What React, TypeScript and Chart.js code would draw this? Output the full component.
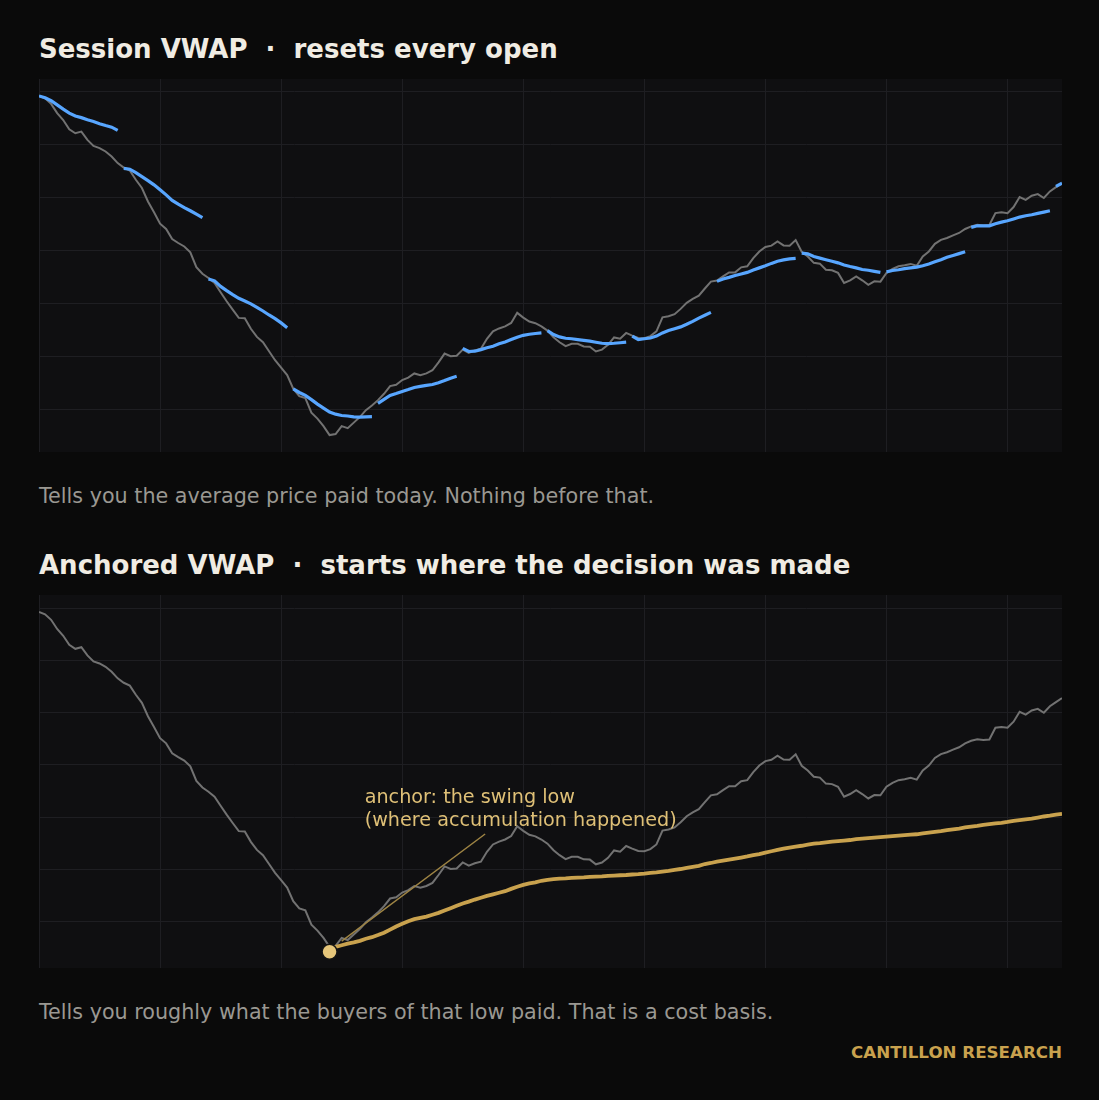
import { useEffect, useRef } from "react"
import { Chart, registerables } from "chart.js"

Chart.register(...registerables)

// bars on the x axis, 14 bars per session
const BAR_COUNT = 170
const SESSION_BARS = 14
const ANCHOR_BAR = 48
const ANCHOR_LOW = 92.84

const xGridTicks = [0, 20, 40, 60, 80, 100, 120, 140, 160]
const yGridTicks = [94, 96, 98, 100, 102, 104, 106]

// close price per bar
const price = [
  105.85, 105.76, 105.55, 105.2, 104.94, 104.59, 104.44, 104.5, 104.19, 103.96,
  103.88, 103.75, 103.56, 103.31, 103.14, 103.03, 102.68, 102.37, 101.86, 101.45,
  101.02, 100.82, 100.44, 100.29, 100.16, 99.94, 99.38, 99.13, 98.97, 98.78,
  98.43, 98.09, 97.77, 97.46, 97.45, 97.05, 96.74, 96.54, 96.2, 95.86,
  95.58, 95.3, 94.78, 94.5, 94.43, 93.88, 93.65, 93.37, 93.03, 93.07,
  93.37, 93.29, 93.5, 93.71, 93.97, 94.15, 94.35, 94.59, 94.88, 94.93,
  95.11, 95.2, 95.36, 95.29, 95.36, 95.48, 95.78, 96.11, 96.01, 96.03,
  96.26, 96.14, 96.23, 96.29, 96.67, 96.95, 97.06, 97.14, 97.27, 97.65,
  97.47, 97.32, 97.26, 97.14, 96.98, 96.73, 96.54, 96.39, 96.48, 96.48,
  96.38, 96.37, 96.19, 96.26, 96.44, 96.72, 96.67, 96.89, 96.79, 96.7,
  96.69, 96.77, 96.95, 97.48, 97.52, 97.6, 97.8, 98.03, 98.18, 98.3,
  98.57, 98.83, 98.87, 99.03, 99.18, 99.18, 99.37, 99.41, 99.72, 99.97,
  100.14, 100.19, 100.35, 100.2, 100.19, 100.4, 99.96, 99.78, 99.54, 99.51,
  99.28, 99.26, 99.16, 98.78, 98.88, 99.03, 98.88, 98.71, 98.84, 98.83,
  99.16, 99.31, 99.41, 99.45, 99.5, 99.43, 99.78, 99.97, 100.26, 100.41,
  100.48, 100.58, 100.67, 100.82, 100.92, 100.98, 100.95, 100.97, 101.42, 101.45,
  101.42, 101.65, 102.03, 101.92, 102.08, 102.14, 101.99, 102.24, 102.4, 102.55,
]

// session VWAP, one list per session
const sessionVwap = [
  [105.85, 105.78, 105.67, 105.51, 105.35, 105.2, 105.09, 105.03, 104.95, 104.88, 104.8, 104.73, 104.67, 104.55],
  [103.11, 103.08, 102.95, 102.8, 102.65, 102.49, 102.3, 102.11, 101.9, 101.76, 101.63, 101.51, 101.38, 101.25],
  [98.93, 98.86, 98.65, 98.49, 98.34, 98.2, 98.1, 97.99, 97.86, 97.72, 97.57, 97.43, 97.27, 97.09],
  [94.78, 94.64, 94.53, 94.37, 94.2, 94.05, 93.9, 93.82, 93.77, 93.75, 93.72, 93.71, 93.72, 93.73],
  [94.23, 94.38, 94.53, 94.6, 94.68, 94.75, 94.83, 94.87, 94.91, 94.94, 95.01, 95.09, 95.18, 95.25],
  [96.31, 96.19, 96.2, 96.26, 96.33, 96.39, 96.48, 96.55, 96.64, 96.73, 96.8, 96.84, 96.87, 96.89],
  [96.98, 96.83, 96.74, 96.69, 96.67, 96.64, 96.61, 96.58, 96.54, 96.5, 96.49, 96.5, 96.52, 96.54],
  [96.77, 96.64, 96.67, 96.7, 96.77, 96.89, 96.98, 97.05, 97.12, 97.22, 97.33, 97.45, 97.56, 97.67],
  [98.84, 98.93, 98.99, 99.06, 99.12, 99.18, 99.27, 99.35, 99.43, 99.52, 99.6, 99.65, 99.69, 99.71],
  [99.91, 99.88, 99.78, 99.72, 99.66, 99.6, 99.54, 99.46, 99.4, 99.35, 99.29, 99.26, 99.22, 99.18],
  [99.2, 99.25, 99.28, 99.32, 99.35, 99.38, 99.43, 99.5, 99.58, 99.66, 99.75, 99.82, 99.89, 99.96],
  [100.88, 100.94, 100.94, 100.94, 101.02, 101.08, 101.13, 101.2, 101.27, 101.32, 101.36, 101.41, 101.46, 101.51],
  [102.43, 102.55],
]

// anchored VWAP, starting at ANCHOR_BAR
const anchoredVwap = [
  92.98, 93.03, 93.09, 93.15, 93.2, 93.26, 93.34, 93.4, 93.48, 93.57,
  93.69, 93.81, 93.91, 94.01, 94.09, 94.14, 94.19, 94.26, 94.33, 94.42,
  94.51, 94.6, 94.69, 94.76, 94.84, 94.91, 94.98, 95.04, 95.1, 95.16,
  95.25, 95.33, 95.4, 95.46, 95.5, 95.56, 95.59, 95.62, 95.64, 95.65,
  95.67, 95.68, 95.69, 95.71, 95.72, 95.73, 95.75, 95.76, 95.77, 95.78,
  95.8, 95.81, 95.83, 95.86, 95.88, 95.91, 95.94, 95.98, 96.01, 96.05,
  96.09, 96.13, 96.2, 96.24, 96.29, 96.33, 96.37, 96.41, 96.45, 96.49,
  96.54, 96.58, 96.64, 96.69, 96.74, 96.79, 96.83, 96.87, 96.9, 96.94,
  96.98, 97.0, 97.03, 97.06, 97.08, 97.1, 97.12, 97.15, 97.17, 97.19,
  97.21, 97.23, 97.25, 97.27, 97.29, 97.31, 97.33, 97.34, 97.37, 97.4,
  97.43, 97.46, 97.5, 97.53, 97.56, 97.6, 97.63, 97.66, 97.7, 97.73,
  97.76, 97.78, 97.81, 97.85, 97.88, 97.91, 97.94, 97.98, 98.02, 98.05,
  98.09, 98.12,
]

const noteLines = ["anchor: the swing low", "(where accumulation happened)"]
const noteAt = { x: 53.8, y: 97.65 } // baseline of the last line
const leaderFrom = { x: 73.7, y: 97.35 }
const leaderTo = { x: 50.0, y: 93.25 }

const BG = "#0a0a0a"
const PLOT_BG = "#0f0f11"
const GRID = "#1e1e22"
const PRICE = "#727272"
const BLUE = "#58a6ff"
const GOLD = "#c9a24e"
const DOT = "#e6c67a"
const NOTE = "#dfc077"
const LEADER = "#9e8444"
const TITLE = "#f0ece3"
const CAPTION = "#9a9892"
const FONT = "'DejaVu Sans', sans-serif"

const priceData = price.map((y, i) => ({ x: i, y }))

function makeOptions(yMin: number, yMax: number): any {
  const axis = (min: number, max: number, ticks: number[]) => ({
    type: "linear",
    min,
    max,
    grid: { color: GRID, lineWidth: 1, drawTicks: false },
    border: { display: false },
    ticks: { display: false },
    afterBuildTicks: (scale: any) => {
      scale.ticks = ticks.map((value) => ({ value }))
    },
  })
  return {
    animation: false,
    responsive: true,
    maintainAspectRatio: false,
    events: [],
    layout: { padding: 0, autoPadding: false },
    plugins: { legend: { display: false }, tooltip: { enabled: false } },
    elements: { point: { radius: 0, hoverRadius: 0 }, line: { tension: 0 } },
    scales: {
      x: axis(0, BAR_COUNT - 1, xGridTicks),
      y: axis(yMin, yMax, yGridTicks),
    },
  }
}

// leader line and note text for the anchored panel
const anchorNote = {
  id: "anchorNote",
  afterDatasetsDraw(chart: any) {
    const { ctx, scales } = chart
    const x = scales.x
    const y = scales.y
    ctx.save()
    ctx.strokeStyle = LEADER
    ctx.lineWidth = 1.5
    ctx.beginPath()
    ctx.moveTo(x.getPixelForValue(leaderFrom.x), y.getPixelForValue(leaderFrom.y))
    ctx.lineTo(x.getPixelForValue(leaderTo.x), y.getPixelForValue(leaderTo.y))
    ctx.stroke()

    ctx.font = `19.2px ${FONT}`
    ctx.fillStyle = NOTE
    ctx.textBaseline = "alphabetic"
    const tx = x.getPixelForValue(noteAt.x)
    const ty = y.getPixelForValue(noteAt.y)
    noteLines.forEach((line, i) => {
      ctx.fillText(line, tx, ty - (noteLines.length - 1 - i) * 23.3)
    })
    ctx.restore()
  },
}

function SessionChart() {
  const chartRef = useRef<HTMLCanvasElement>(null)
  const chartInstance = useRef<Chart | null>(null)

  useEffect(() => {
    if (!chartRef.current) return
    if (chartInstance.current) chartInstance.current.destroy()

    const sessions = sessionVwap.map((vals, s) => ({
      data: vals.map((y, j) => ({ x: s * SESSION_BARS + j, y })),
      borderColor: BLUE,
      borderWidth: 3.2,
      order: 0,
    }))

    chartInstance.current = new Chart(chartRef.current, {
      type: "line",
      data: {
        datasets: [
          ...sessions,
          { data: priceData, borderColor: PRICE, borderWidth: 2, order: 1 },
        ],
      },
      options: makeOptions(92.39, 106.49),
    })

    return () => {
      if (chartInstance.current) {
        chartInstance.current.destroy()
        chartInstance.current = null
      }
    }
  }, [])

  return <canvas ref={chartRef}></canvas>
}

function AnchoredChart() {
  const chartRef = useRef<HTMLCanvasElement>(null)
  const chartInstance = useRef<Chart | null>(null)

  useEffect(() => {
    if (!chartRef.current) return
    if (chartInstance.current) chartInstance.current.destroy()

    chartInstance.current = new Chart(chartRef.current, {
      type: "line",
      data: {
        datasets: [
          {
            data: [{ x: ANCHOR_BAR, y: ANCHOR_LOW }],
            showLine: false,
            pointRadius: 7.5,
            pointBackgroundColor: DOT,
            pointBorderColor: "#141414",
            pointBorderWidth: 1.5,
            order: 0,
          },
          {
            data: anchoredVwap.map((y, j) => ({ x: ANCHOR_BAR + j, y })),
            borderColor: GOLD,
            borderWidth: 3.8,
            order: 1,
          },
          { data: priceData, borderColor: PRICE, borderWidth: 2, order: 2 },
        ] as any,
      },
      options: makeOptions(92.22, 106.5),
      plugins: [anchorNote],
    })

    return () => {
      if (chartInstance.current) {
        chartInstance.current.destroy()
        chartInstance.current = null
      }
    }
  }, [])

  return <canvas ref={chartRef}></canvas>
}

function Text({ top, size, color, bold, children, right }: any) {
  return (
    <div
      style={{
        position: "absolute",
        top,
        left: right === undefined ? 39 : undefined,
        right,
        fontSize: size,
        lineHeight: `${size}px`,
        fontWeight: bold ? 700 : 400,
        color,
        whiteSpace: "pre",
      }}
    >
      {children}
    </div>
  )
}

const plotBox = (top: number): any => ({
  position: "absolute",
  left: 39,
  top,
  width: 1023,
  height: 373,
  background: PLOT_BG,
})

export default function App() {
  useEffect(() => {
    document.body.style.margin = "0"
    document.body.style.background = BG
  }, [])

  return (
    <div
      style={{
        position: "absolute",
        top: 0,
        left: 0,
        width: 1099,
        height: 1100,
        background: BG,
        fontFamily: FONT,
        overflow: "hidden",
      }}
    >
      <Text top={36} size={26} color={TITLE} bold>
        {"Session VWAP  \u00b7  resets every open"}
      </Text>
      <div style={plotBox(79)}>
        <SessionChart />
      </div>
      <Text top={485.5} size={20.7} color={CAPTION}>
        Tells you the average price paid today. Nothing before that.
      </Text>

      <Text top={552} size={26} color={TITLE} bold>
        {"Anchored VWAP  \u00b7  starts where the decision was made"}
      </Text>
      <div style={plotBox(595)}>
        <AnchoredChart />
      </div>
      <Text top={1001.5} size={20.7} color={CAPTION}>
        Tells you roughly what the buyers of that low paid. That is a cost basis.
      </Text>

      <Text top={1044} size={16.7} color={GOLD} bold right={37}>
        CANTILLON RESEARCH
      </Text>
    </div>
  )
}
